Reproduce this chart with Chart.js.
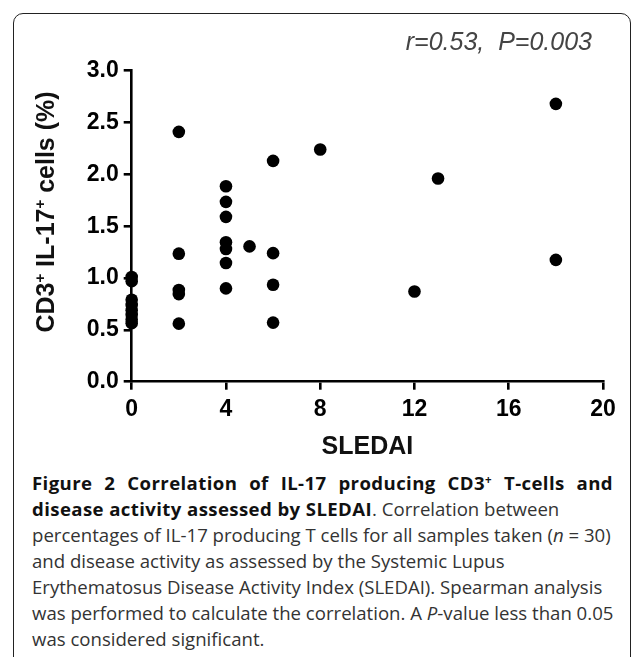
<!DOCTYPE html>
<html>
<head>
<meta charset="utf-8">
<script src="https://cdn.jsdelivr.net/npm/chart.js@4/dist/chart.umd.min.js"></script>
<style>
  html, body { margin: 0; padding: 0; background: #fff; width: 633px; height: 657px; overflow: hidden; }
  #frame { position: absolute; left: 13px; top: 13px; width: 616px; height: 720px;
           border: 1.5px solid #222; border-radius: 10px; }
  #wrap { position: absolute; left: 0; top: 0; width: 633px; height: 470px; }
  #caption { position: absolute; left: 32px; top: 470px; width: 581px;
             font-family: "Open Sans", sans-serif; font-size: 18.6px; line-height: 26px; color: #333; }
  #caption div { white-space: nowrap; }
  #caption b { color: #111; letter-spacing: 0.4px; }
  #caption .just { text-align: justify; text-align-last: justify; }
  sup { font-size: 0.62em; line-height: 0; vertical-align: 0.55em; }
</style>
</head>
<body>
<div id="frame"></div>
<div id="wrap"><canvas id="c" width="633" height="470"></canvas></div>
<div id="caption">
  <div class="just"><b>Figure 2 Correlation of IL-17 producing CD3<sup>+</sup> T-cells and</b></div>
  <div><b>disease activity assessed by SLEDAI</b>. Correlation between</div>
  <div>percentages of IL-17 producing T cells for all samples taken (<i>n</i> = 30)</div>
  <div>and disease activity as assessed by the Systemic Lupus</div>
  <div>Erythematosus Disease Activity Index (SLEDAI). Spearman analysis</div>
  <div>was performed to calculate the correlation. A <i>P</i>-value less than 0.05</div>
  <div>was considered significant.</div>
</div>
<script>
// SLEDAI score for each sample
const sledai = [0, 0, 0, 0, 0, 0, 0, 0,
                2, 2, 2, 2, 2,
                4, 4, 4, 4, 4, 4, 4,
                5,
                6, 6, 6, 6,
                8, 12, 13, 18, 18];
// CD3+ IL-17+ cells (%)
const il17 = [1.01, 0.97, 0.79, 0.74, 0.69, 0.645, 0.60, 0.565,
              2.41, 1.235, 0.885, 0.845, 0.56,
              1.885, 1.735, 1.59, 1.345, 1.28, 1.145, 0.90,
              1.305,
              2.13, 1.24, 0.935, 0.57,
              2.24, 0.87, 1.96, 2.68, 1.175];
const xTicks = [0, 4, 8, 12, 16, 20];
const yTicks = [0.0, 0.5, 1.0, 1.5, 2.0, 2.5, 3.0];
const statText = "r=0.53,  P=0.003";
const yTitleParts = [["CD3", false], ["+", true], [" IL-17", false], ["+", true], [" cells (%)", false]];
const xTitle = "SLEDAI";

const points = sledai.map((x, i) => ({ x: x, y: il17[i] }));

const textPlugin = {
  id: 'texts',
  afterDraw(chart) {
    const ctx = chart.ctx;
    ctx.save();
    // statistics annotation
    ctx.font = 'italic 25px "Liberation Sans", Arial, sans-serif';
    ctx.fillStyle = '#444';
    ctx.textAlign = 'right';
    ctx.textBaseline = 'alphabetic';
    ctx.fillText(statText, 592, 50);
    // y axis title with superscripts, rotated
    const big = 'bold 25px "Liberation Sans", Arial, sans-serif';
    const small = 'bold 15px "Liberation Sans", Arial, sans-serif';
    let total = 0;
    const widths = yTitleParts.map(p => { ctx.font = p[1] ? small : big; const w = ctx.measureText(p[0]).width; total += w; return w; });
    ctx.translate(54, 212);
    ctx.rotate(-Math.PI / 2);
    ctx.textAlign = 'left';
    let xx = -total / 2;
    yTitleParts.forEach((p, i) => {
      ctx.font = p[1] ? small : big;
      ctx.fillStyle = '#111';
      ctx.fillText(p[0], xx, p[1] ? -9 : 0);
      xx += widths[i];
    });
    ctx.restore();
  }
};

const tickFont = { family: '"Liberation Sans", Arial, sans-serif', size: 23, weight: 'bold' };

new Chart(document.getElementById('c'), {
  type: 'scatter',
  data: {
    datasets: [{
      data: points,
      backgroundColor: '#000',
      borderWidth: 0,
      pointRadius: 6.3,
      pointHoverRadius: 6.3,
      clip: false
    }]
  },
  options: {
    responsive: false,
    animation: false,
    devicePixelRatio: 1,
    layout: { padding: { top: 70.7, right: 30, left: 0, bottom: 0 } },
    plugins: { legend: { display: false }, tooltip: { enabled: false } },
    scales: {
      x: {
        type: 'linear',
        min: xTicks[0], max: xTicks[xTicks.length - 1],
        afterBuildTicks: s => { s.ticks = xTicks.map(v => ({ value: v })); },
        afterFit: s => { s.height = 88.3; },
        border: { display: true, color: '#000', width: 2.6 },
        grid: { display: true, drawOnChartArea: false, drawTicks: true, tickLength: 8, color: '#000', lineWidth: 2.6 },
        ticks: { color: '#000', font: tickFont, padding: 6, maxRotation: 0, autoSkip: false, callback: v => String(v) },
        title: { display: true, text: xTitle, color: '#111',
                 font: { family: '"Liberation Sans", Arial, sans-serif', size: 25, weight: 'bold' },
                 padding: { top: 0, bottom: 8 } }
      },
      y: {
        type: 'linear',
        min: yTicks[0], max: yTicks[yTicks.length - 1],
        afterBuildTicks: s => { s.ticks = yTicks.map(v => ({ value: v })); },
        afterFit: s => { s.width = 131.7; },
        border: { display: true, color: '#000', width: 2.6 },
        grid: { display: true, drawOnChartArea: false, drawTicks: true, tickLength: 8, color: '#000', lineWidth: 2.6 },
        ticks: { color: '#000', font: tickFont, padding: 5, autoSkip: false, callback: v => Number(v).toFixed(1) }
      }
    }
  },
  plugins: [textPlugin]
});
</script>
</body>
</html>
